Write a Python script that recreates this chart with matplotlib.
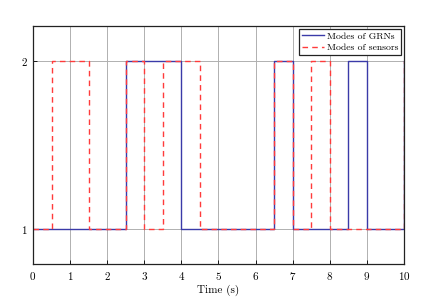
import matplotlib
matplotlib.use("Agg")
import matplotlib.pyplot as plt

t = [0, 0.5, 1, 1.5, 2, 2.5, 3, 3.5, 4, 4.5, 5, 5.5, 6, 6.5, 7, 7.5, 8, 8.5, 9, 9.5, 10]
grn_modes = [1, 1, 1, 1, 1, 2, 2, 2, 1, 1, 1, 1, 1, 2, 1, 1, 1, 2, 1, 1, 2]
sensor_modes = [1, 2, 2, 1, 1, 2, 1, 2, 2, 1, 1, 1, 1, 2, 1, 2, 1, 1, 1, 1, 2]
xticks = list(range(0, 11))
yticks = [1, 2]

plt.rcParams['font.family'] = ['cmr10', 'DejaVu Serif']
plt.rcParams['axes.formatter.use_mathtext'] = True

fig = plt.figure(figsize=(4.42, 2.97), dpi=100)
ax = fig.add_axes([0.0747, 0.111, 0.839, 0.801])

ax.step(t, grn_modes, where='post', color='#3a3aa8', lw=1.0, label='Modes of GRNs')
ax.step(t, sensor_modes, where='post', color='#ff3b3b', lw=1.0, ls=(0, (4, 3)), label='Modes of sensors')

ax.set_xlim(0, 10)
ax.set_ylim(0.79, 2.21)
ax.set_xticks(xticks)
ax.set_yticks(yticks)
ax.tick_params(direction='in', labelsize=8, length=3, width=0.6, pad=4)
ax.grid(True, color='#b0b0b0', lw=0.7)
ax.set_axisbelow(True)
for s in ax.spines.values():
    s.set_linewidth(0.9)
    s.set_color('#222222')
ax.set_xlabel('Time (s)', fontsize=8, labelpad=2)

leg = ax.legend(loc='upper right', fontsize=7, fancybox=False, framealpha=1,
                edgecolor='#222222', borderpad=0.3, labelspacing=0.25,
                handlelength=2.2, handletextpad=0.3, borderaxespad=0.3)
leg.get_frame().set_linewidth(0.9)

fig.savefig('out.png', dpi=100)
